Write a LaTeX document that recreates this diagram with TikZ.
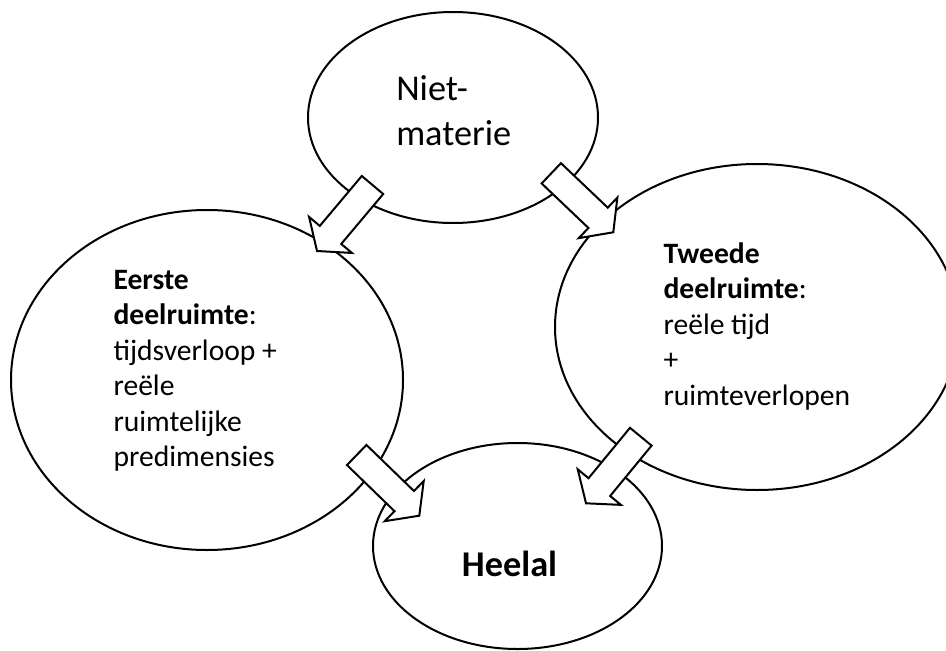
\documentclass[tikz,border=0pt]{standalone}
\usepackage{fontspec}
\setmainfont{Carlito}
\usetikzlibrary{shapes.geometric,calc}

% keep line spacing fixed, whatever the letters on a line
\newcommand\fixedlines{\lineskiplimit=-100pt\relax}

\tikzset{
  bubble/.style={ellipse, draw=black, line width=1.5pt, fill=white, inner sep=0pt},
  arrowbox/.style={draw=black, fill=white, line width=1.5pt, line join=miter},
  % multi-line labels are placed by the baseline of their last line
  bigtext/.style={anchor=base west, inner sep=0pt, align=left,
    font=\fontsize{27.2}{33.75}\selectfont\fixedlines},
  smalltext/.style={anchor=base west, inner sep=0pt, align=left,
    font=\fontsize{22.2}{26.6}\selectfont\fixedlines},
}

% hollow block arrow from tail #1 to tip #2
\newcommand\blockarrow[2]{%
  \coordinate (neck) at ($(#2)!15.75pt!(#1)$);
  \draw[arrowbox]
    ($(#1)!10.5pt!90:(#2)$) -- ($(neck)!10.5pt!-90:(#1)$) --
    ($(neck)!21pt!-90:(#1)$) -- (#2) -- ($(neck)!21pt!90:(#1)$) --
    ($(neck)!10.5pt!90:(#1)$) -- ($(#1)!10.5pt!-90:(#2)$) -- cycle;}

\begin{document}
\begin{tikzpicture}[x=0.75pt, y=-0.75pt]
  \useasboundingbox (0,0) rectangle (946,650);
  \clip (0,0) rectangle (946,650);

  % the four regions
  \node[bubble, minimum width=217.5pt, minimum height=158.25pt] (niet) at (453,117.5) {};
  \node[bubble, minimum width=294pt, minimum height=255pt] (eerste) at (207,380) {};
  \node[bubble, minimum width=303pt, minimum height=244.5pt] (tweede) at (757,327) {};
  \node[bubble, minimum width=216.75pt, minimum height=154.5pt] (heelal) at (517.5,546) {};

  % labels
  \node[bigtext] (nietlabel) at (396,145) {Niet-\\materie};
  \node[smalltext] (eerstelabel) at (113.3,466.7)
    {\textbf{Eerste}\\\textbf{deelruimte}:\\tijdsverloop +\\reële\\ruimtelijke\\predimensies};
  \node[smalltext] (tweedelabel) at (663.3,405)
    {\textbf{Tweede}\\\textbf{deelruimte}:\\reële tijd\\+\\ruimteverlopen};
  \node[bigtext, font=\fontsize{27.2}{33.75}\selectfont\bfseries] (heelallabel) at (461.7,576.7) {Heelal};

  % arrow end points
  \coordinate (a1) at (372.5,185);  \coordinate (t1) at (317,251);
  \coordinate (a2) at (551.3,173.3); \coordinate (t2) at (613.3,232.3);
  \coordinate (a3) at (356.7,455);  \coordinate (t3) at (419.3,515.7);
  \coordinate (a4) at (640.8,436.7); \coordinate (t4) at (586,503.3);

  \blockarrow{a1}{t1}
  \blockarrow{a2}{t2}
  \blockarrow{a3}{t3}
  \blockarrow{a4}{t4}
\end{tikzpicture}
\end{document}
